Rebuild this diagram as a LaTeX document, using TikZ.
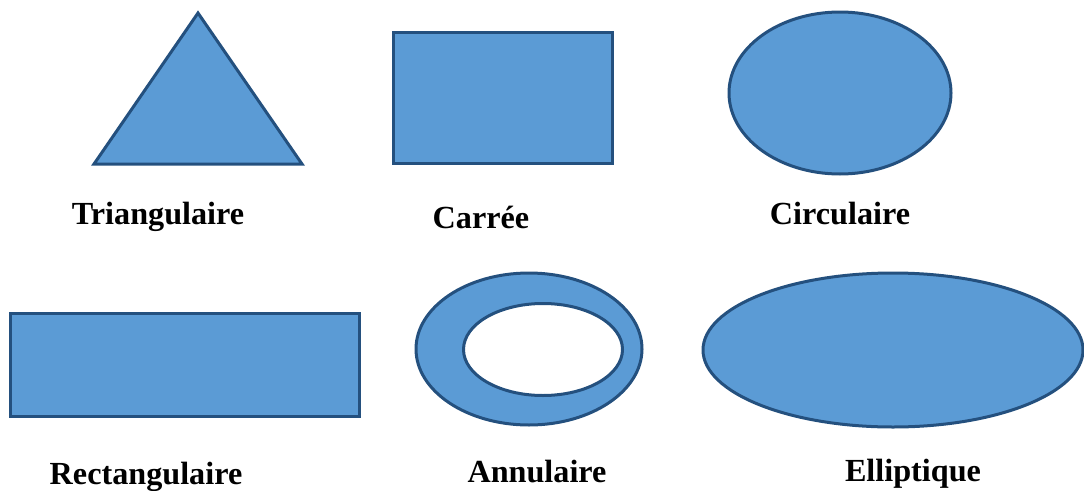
\documentclass[tikz,border=0pt]{standalone}
\usepackage{fontspec}
\setmainfont{Liberation Serif}
\usetikzlibrary{shapes.geometric}
\definecolor{shapefill}{HTML}{5B9BD5}
\definecolor{shapeline}{HTML}{24507E}
\begin{document}
\begin{tikzpicture}[x=1pt,y=-1pt,
  shp/.style={fill=shapefill,draw=shapeline,line width=3pt,line join=miter},
  lbl/.style={anchor=base,inner sep=0pt,font=\fontsize{32.2}{36}\selectfont\bfseries}]
\useasboundingbox (0,0) rectangle (1084,490);
% Triangle
\draw[shp] (198,13) -- (302,164) -- (94,164) -- cycle;
% Square
\draw[shp] (393,32) rectangle (612,163);
% Circle
\draw[shp] (840,93) ellipse [x radius=111,y radius=81];
% Rectangle
\draw[shp] (10,313) rectangle (359,416);
% Annulus
\draw[shp,even odd rule] (529,349) ellipse [x radius=113,y radius=76] (543,349.5) ellipse [x radius=79.5,y radius=46];
% Ellipse
\draw[shp] (893,350) ellipse [x radius=190,y radius=77];
% Labels
\node[lbl] (l1) at (158,224) {Triangulaire};
\node[lbl] (l2) at (481,228) {Carrée};
\node[lbl] (l3) at (840,224) {Circulaire};
\node[lbl] (l4) at (146,484) {Rectangulaire};
\node[lbl] (l5) at (537,482) {Annulaire};
\node[lbl] (l6) at (913,481) {Elliptique};
\end{tikzpicture}
\end{document}
